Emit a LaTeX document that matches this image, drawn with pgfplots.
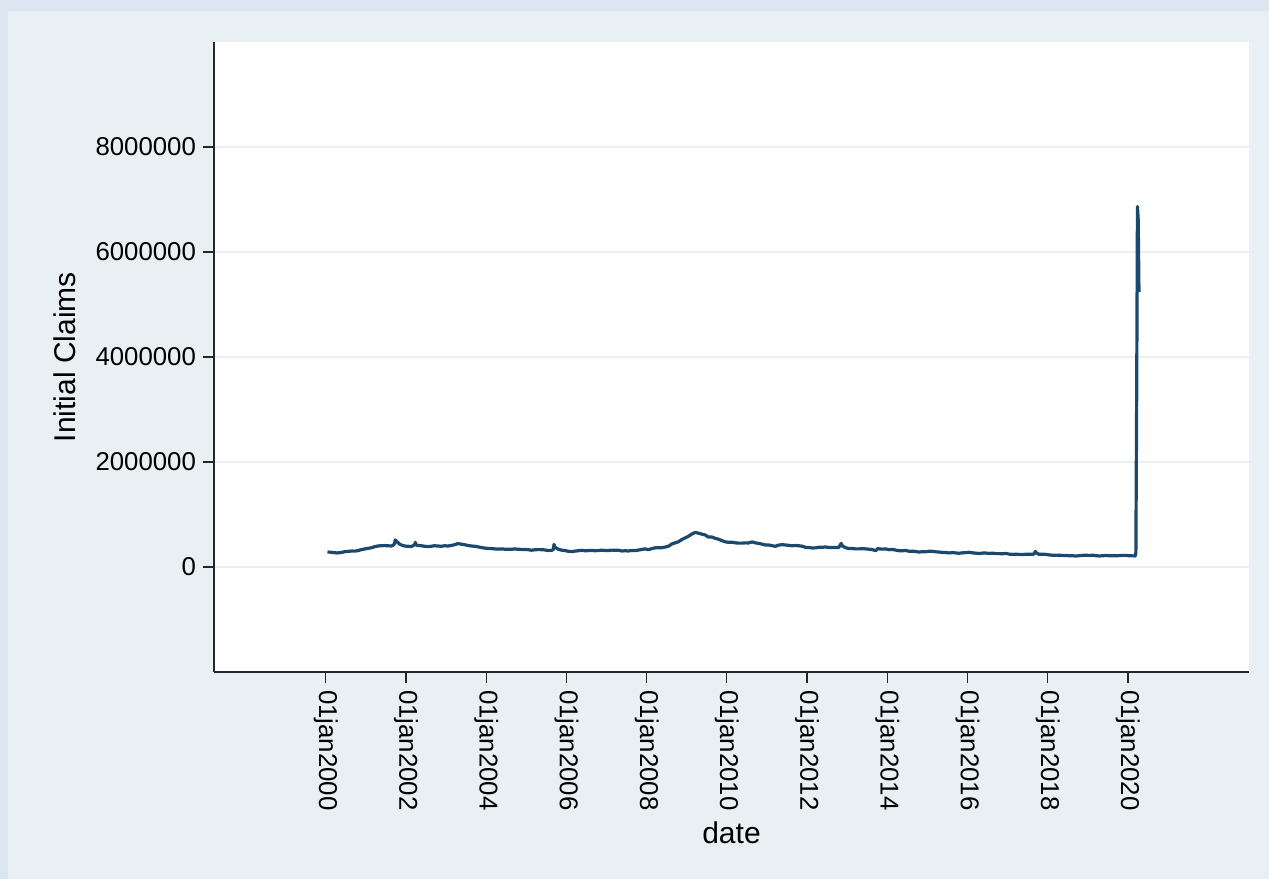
\documentclass[border=0pt]{standalone}
\usepackage{pgfplots}
\pgfplotsset{compat=1.18}
\usepackage{fontspec}
\setmainfont{Liberation Sans}

\definecolor{outerbg}{RGB}{220,230,241}
\definecolor{innerbg}{RGB}{232,240,243}
\definecolor{gridcol}{RGB}{232,240,242}
\definecolor{claims}{RGB}{27,72,110}

\begin{document}
\begin{tikzpicture}
% graph region
\fill[outerbg] (-107pt,-103.5pt) rectangle (527.5pt,336pt);
\fill[innerbg] (-103pt,-103.5pt) rectangle (527.5pt,330.5pt);
\begin{axis}[
  scale only axis,
  width=517.5pt, height=315pt,
  xmin=1997.21, xmax=2023.02,
  ymin=-2000000, ymax=10000000,
  axis background/.style={fill=white},
  axis x line*=bottom, axis y line*=left,
  axis line style={-, line width=0.7pt, color=black!85},
  tick align=outside,
  major tick length=5.5pt,
  tick style={line width=0.6pt, color=black!85},
  xtick={2000,2002,2004,2006,2008,2010,2012,2014,2016,2018,2020},
  xticklabels={01jan2000,01jan2002,01jan2004,01jan2006,01jan2008,01jan2010,01jan2012,01jan2014,01jan2016,01jan2018,01jan2020},
  ytick={0,2000000,4000000,6000000,8000000},
  yticklabels={0,2000000,4000000,6000000,8000000},
  scaled y ticks=false,
  ymajorgrids,
  major grid style={color=gridcol, line width=1pt},
  tick label style={font=\fontsize{12.9}{14}\selectfont},
  xticklabel style={rotate=-90, anchor=west},
  xlabel={date},
  ylabel={Initial Claims},
  every axis x label/.style={at={(axis description cs:0.5,0)}, yshift=-80.5pt, anchor=center, font=\fontsize{15}{18}\selectfont},
  every axis y label/.style={at={(axis description cs:0,0.5)}, xshift=-74.5pt, rotate=90, anchor=center, font=\fontsize{15}{18}\selectfont},
  clip=false,
]
\addplot[claims, line width=1.6pt, line join=round] coordinates {
(2000.04,285000) (2000.13,282000) (2000.21,272000) (2000.29,268000) (2000.38,276000) (2000.46,290000)
(2000.54,296000) (2000.63,304000) (2000.71,302000) (2000.79,310000) (2000.88,330000) (2000.96,342000)
(2001.04,355000) (2001.13,365000) (2001.21,385000) (2001.29,400000) (2001.38,405000) (2001.46,408000)
(2001.54,405000) (2001.63,400000) (2001.67,410000) (2001.71,440000) (2001.73,517000) (2001.75,500000)
(2001.79,470000) (2001.83,440000) (2001.88,420000) (2001.96,400000)
(2002.04,395000) (2002.13,390000) (2002.21,420000) (2002.23,470000) (2002.25,420000) (2002.29,410000)
(2002.38,405000) (2002.46,395000) (2002.54,390000) (2002.63,395000) (2002.71,405000) (2002.79,400000)
(2002.88,395000) (2002.96,405000)
(2003.04,400000) (2003.13,410000) (2003.21,425000) (2003.29,445000) (2003.38,435000) (2003.46,425000)
(2003.54,410000) (2003.63,400000) (2003.71,395000) (2003.79,385000) (2003.88,370000) (2003.96,360000)
(2004.04,355000) (2004.13,350000) (2004.21,345000) (2004.29,340000) (2004.38,345000) (2004.46,340000)
(2004.54,340000) (2004.63,338000) (2004.71,345000) (2004.79,338000) (2004.88,335000) (2004.96,335000)
(2005.04,330000) (2005.13,320000) (2005.21,328000) (2005.29,332000) (2005.38,330000) (2005.46,325000)
(2005.54,315000) (2005.63,318000) (2005.67,330000) (2005.69,430000) (2005.71,380000) (2005.79,340000)
(2005.88,320000) (2005.96,315000)
(2006.04,300000) (2006.13,295000) (2006.21,302000) (2006.29,310000) (2006.38,318000) (2006.46,310000)
(2006.54,312000) (2006.63,316000) (2006.71,310000) (2006.79,314000) (2006.88,320000) (2006.96,315000)
(2007.04,312000) (2007.13,322000) (2007.21,318000) (2007.29,322000) (2007.38,305000) (2007.46,310000)
(2007.54,305000) (2007.63,315000) (2007.71,312000) (2007.79,322000) (2007.88,335000) (2007.96,345000)
(2008.04,330000) (2008.13,350000) (2008.21,365000) (2008.29,365000) (2008.38,368000) (2008.46,380000)
(2008.54,395000) (2008.63,440000) (2008.71,460000) (2008.79,480000) (2008.88,525000) (2008.96,555000)
(2009.04,585000) (2009.13,630000) (2009.21,658000) (2009.29,645000) (2009.38,625000) (2009.46,610000)
(2009.54,570000) (2009.63,570000) (2009.71,545000) (2009.79,530000) (2009.88,500000) (2009.96,480000)
(2010.04,470000) (2010.13,472000) (2010.21,460000) (2010.29,455000) (2010.38,455000) (2010.46,460000)
(2010.54,458000) (2010.63,478000) (2010.71,460000) (2010.79,450000) (2010.88,435000) (2010.96,420000)
(2011.04,420000) (2011.13,405000) (2011.21,395000) (2011.29,418000) (2011.38,425000) (2011.46,420000)
(2011.54,412000) (2011.63,405000) (2011.71,410000) (2011.79,405000) (2011.88,395000) (2011.96,375000)
(2012.04,372000) (2012.13,362000) (2012.21,365000) (2012.29,375000) (2012.38,375000) (2012.46,382000)
(2012.54,372000) (2012.63,370000) (2012.71,372000) (2012.79,372000) (2012.85,450000) (2012.88,400000)
(2012.96,368000)
(2013.04,352000) (2013.13,352000) (2013.21,345000) (2013.29,345000) (2013.38,350000) (2013.46,345000)
(2013.54,340000) (2013.63,330000) (2013.71,312000) (2013.77,355000) (2013.79,345000) (2013.88,340000)
(2013.96,345000)
(2014.04,330000) (2014.13,335000) (2014.21,322000) (2014.29,310000) (2014.38,310000) (2014.46,315000)
(2014.54,300000) (2014.63,302000) (2014.71,295000) (2014.79,285000) (2014.88,292000) (2014.96,290000)
(2015.04,300000) (2015.13,298000) (2015.21,290000) (2015.29,285000) (2015.38,278000) (2015.46,275000)
(2015.54,268000) (2015.63,275000) (2015.71,268000) (2015.79,262000) (2015.88,270000) (2015.96,275000)
(2016.04,280000) (2016.13,270000) (2016.21,263000) (2016.29,258000) (2016.38,265000) (2016.46,265000)
(2016.54,258000) (2016.63,264000) (2016.71,255000) (2016.79,255000) (2016.88,252000) (2016.96,260000)
(2017.04,245000) (2017.13,240000) (2017.21,243000) (2017.29,240000) (2017.38,238000) (2017.46,243000)
(2017.54,245000) (2017.63,240000) (2017.67,260000) (2017.69,298000) (2017.71,270000) (2017.79,240000)
(2017.88,245000) (2017.96,240000)
(2018.04,230000) (2018.13,224000) (2018.21,226000) (2018.29,225000) (2018.38,220000) (2018.46,220000)
(2018.54,214000) (2018.63,213000) (2018.71,210000) (2018.79,215000) (2018.88,222000) (2018.96,225000)
(2019.04,220000) (2019.13,225000) (2019.21,215000) (2019.29,210000) (2019.38,215000) (2019.46,220000)
(2019.54,214000) (2019.63,215000) (2019.71,213000) (2019.79,218000) (2019.88,222000) (2019.96,220000)
(2020.04,214000) (2020.13,212000) (2020.185,211000) (2020.199,282000) (2020.219,3307000)
(2020.238,6867000) (2020.257,6615000) (2020.276,5237000)
};
\end{axis}
\pgfresetboundingbox
\useasboundingbox (-107pt,-103.5pt) rectangle (527.5pt,336pt);
\end{tikzpicture}
\end{document}
